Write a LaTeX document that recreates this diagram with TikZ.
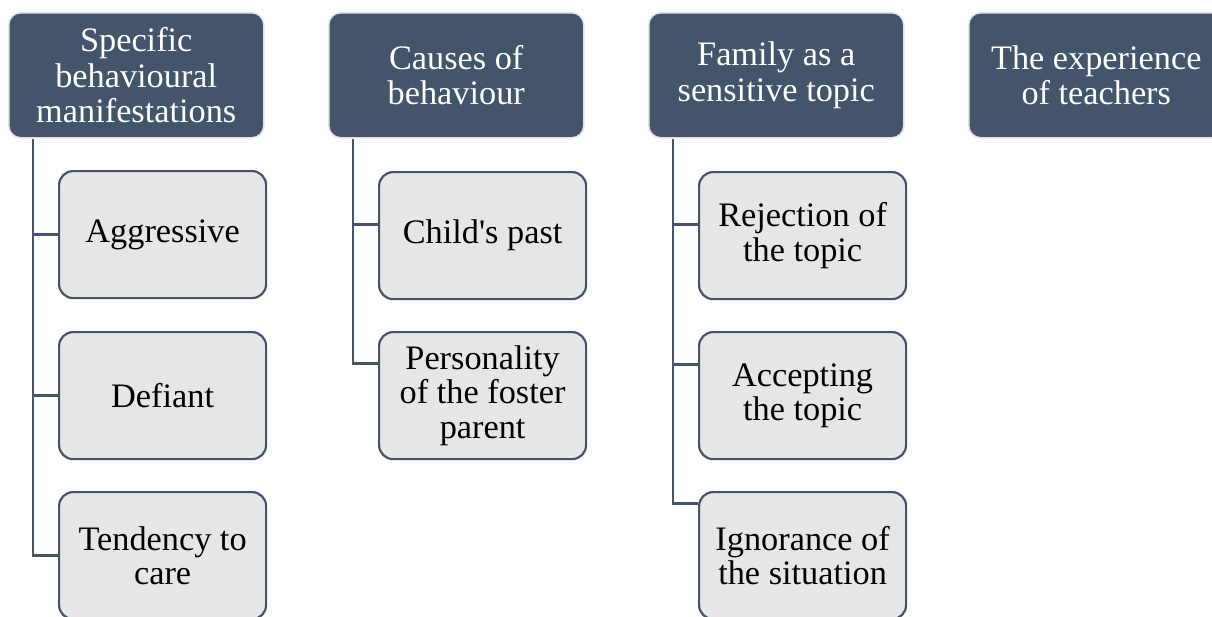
\documentclass[tikz,border=0pt]{standalone}
\usepackage{fontspec}
\setmainfont{Liberation Serif}
\definecolor{hdr}{HTML}{44546A}
\definecolor{chfill}{HTML}{E7E6E6}
\definecolor{hdredge}{HTML}{E2E2E2}
\begin{document}
\begin{tikzpicture}[x=1pt,y=-1pt,
  hdrbox/.style={anchor=north west, draw=hdredge, line width=1.5pt, fill=hdr,
    rounded corners=12pt, minimum width=255pt, minimum height=125pt,
    text=white, align=center, font=\fontsize{34.3}{35.5}\selectfont, inner sep=0pt},
  childbox/.style={anchor=north west, draw=hdr, line width=2.2pt, fill=chfill,
    rounded corners=14pt, minimum width=207pt, minimum height=127pt,
    text=black, align=center, font=\fontsize{34.3}{34.5}\selectfont, inner sep=0pt},
  conn/.style={draw=hdr, line width=2.8pt}]
\useasboundingbox (0,0) rectangle (1212,616);
\clip (0,0) rectangle (1212,616);

% headers
\node[hdrbox] (h1) at (8,12)   {Specific\\behavioural\\manifestations};
\node[hdrbox] (h2) at (328,12) {Causes of\\behaviour};
\node[hdrbox] (h3) at (648,12) {Family as a\\sensitive topic};
\node[hdrbox] (h4) at (968,12) {The experience\\of teachers};

% children
\node[childbox] (c11) at (58,170)  {Aggressive};
\node[childbox] (c12) at (58,331)  {Defiant};
\node[childbox] (c13) at (58,491)  {Tendency to\\care};
\node[childbox] (c21) at (378,171) {Child\textquotesingle s past};
\node[childbox] (c22) at (378,331) {Personality\\of the foster\\parent};
\node[childbox] (c31) at (698,171) {Rejection of\\the topic};
\node[childbox] (c32) at (698,331) {Accepting\\the topic};
\node[childbox] (c33) at (698,491) {Ignorance of\\the situation};

% connector points
\coordinate (v1) at ([xshift=25pt]h1.south west);
\coordinate (v2) at ([xshift=25pt]h2.south west);
\coordinate (v3) at ([xshift=25pt]h3.south west);
\coordinate (k21) at ([yshift=11.5pt]c21.west);
\coordinate (k22) at ([yshift=32.5pt]c22.west);
\coordinate (k31) at ([yshift=11.5pt]c31.west);
\coordinate (k32) at ([yshift=31.5pt]c32.west);
\coordinate (k33) at ([yshift=52pt]c33.west);

% column 1
\draw[conn] (v1) |- (c13.west);
\draw[conn] (v1 |- c11.west) -- (c11.west);
\draw[conn] (v1 |- c12.west) -- (c12.west);
% column 2
\draw[conn] (v2) |- (k22);
\draw[conn] (v2 |- k21) -- (k21);
% column 3
\draw[conn] (v3) |- (k33);
\draw[conn] (v3 |- k31) -- (k31);
\draw[conn] (v3 |- k32) -- (k32);
\end{tikzpicture}
\end{document}
